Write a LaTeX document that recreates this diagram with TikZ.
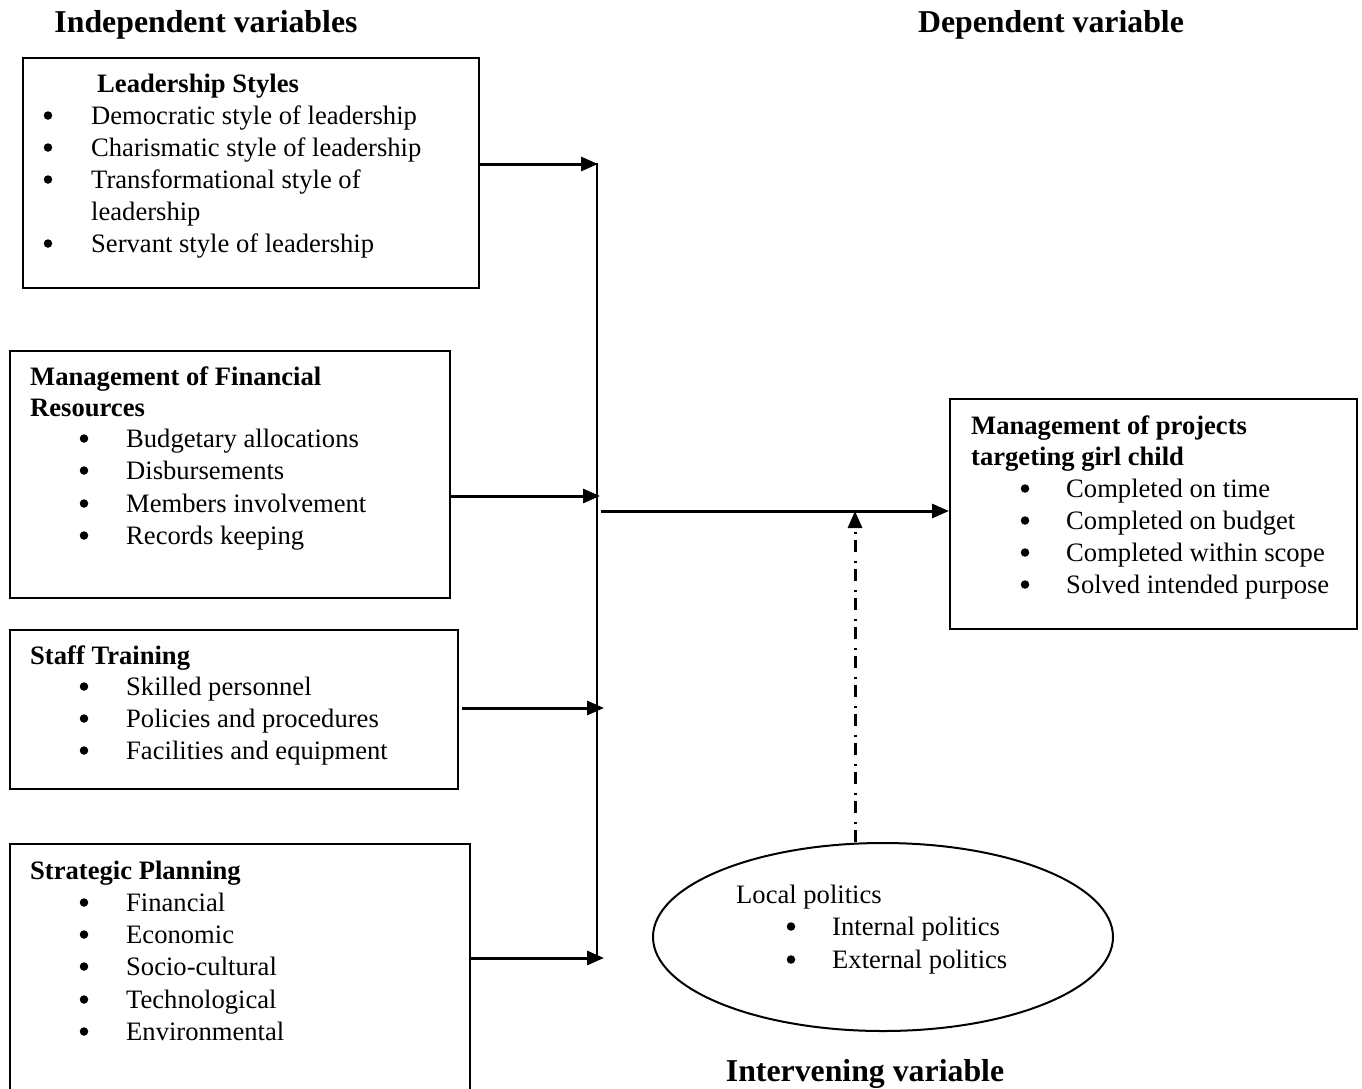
\documentclass[tikz,border=0pt]{standalone}
\usepackage{fontspec}
\setmainfont{Liberation Serif}
\usetikzlibrary{arrows.meta,shapes.geometric}
\newcommand\bodyfs{\fontsize{26.6}{32}\selectfont}
\newcommand\titlefs{\fontsize{31.8}{38}\selectfont\bfseries}
\tikzset{
  txt/.style={anchor=base west, inner sep=0pt, font=\bodyfs},
  hd/.style={anchor=base west, inner sep=0pt, font=\bodyfs\bfseries},
  bul/.style={circle, fill=black, inner sep=0pt, minimum size=8.5pt, yshift=8.5pt},
  ttl/.style={anchor=base, inner sep=0pt, font=\titlefs},
  boxr/.style={draw, line width=2pt, rectangle, inner sep=0pt, anchor=north west},
  arr/.style={line width=3pt, -{Triangle[length=17pt,width=14pt]}},
  bus/.style={line width=2.5pt},
  dd/.style={line width=3pt, dash pattern=on 12pt off 6pt on 2pt off 9pt, -{Triangle[length=17pt,width=14pt]}}
}
\begin{document}
\begin{tikzpicture}[x=1pt,y=-1pt]
\clip (0,0) rectangle (1362,1088);
\useasboundingbox (0,0) rectangle (1362,1088);

% titles
\node[ttl] (t1) at (206,32) {Independent variables};
\node[ttl] (t2) at (1051,32) {Dependent variable};
\node[ttl] (t3) at (865,1081) {Intervening variable};

% boxes
\node[boxr, minimum width=456pt, minimum height=230pt] (b1) at (22,57) {};
\node[boxr, minimum width=440pt, minimum height=247pt] (b2) at (9,350) {};
\node[boxr, minimum width=448pt, minimum height=159pt] (b3) at (9,629) {};
\node[boxr, minimum width=460pt, minimum height=260pt] (b4) at (9,843) {};
\node[boxr, minimum width=407pt, minimum height=230pt] (b5) at (949,398) {};
\node[draw, ellipse, line width=2pt, minimum width=460pt, minimum height=188pt, inner sep=0pt] (ell) at (883,937) {};

% box 1 text
\node[hd] (h1) at (97,92) {Leadership Styles};
\node[bul] (b1d1) at (48,124) {}; \node[txt] (b1t1) at (91,124) {Democratic style of leadership};
\node[bul] (b1d2) at (48,156) {}; \node[txt] (b1t2) at (91,156) {Charismatic style of leadership};
\node[bul] (b1d3) at (48,188) {}; \node[txt] (b1t3) at (91,188) {Transformational style of};
\node[txt] (b1t3b) at (91,220) {leadership};
\node[bul] (b1d4) at (48,252) {}; \node[txt] (b1t4) at (91,252) {Servant style of leadership};

% box 2 text
\node[hd] (h2a) at (30,385) {Management of Financial};
\node[hd] (h2b) at (30,416) {Resources};
\node[bul] (b2d1) at (84,447) {}; \node[txt] (b2t1) at (126,447) {Budgetary allocations};
\node[bul] (b2d2) at (84,479) {}; \node[txt] (b2t2) at (126,479) {Disbursements};
\node[bul] (b2d3) at (84,512) {}; \node[txt] (b2t3) at (126,512) {Members involvement};
\node[bul] (b2d4) at (84,544) {}; \node[txt] (b2t4) at (126,544) {Records keeping};

% box 3 text
\node[hd] (h3) at (30,664) {Staff Training};
\node[bul] (b3d1) at (84,695) {}; \node[txt] (b3t1) at (126,695) {Skilled personnel};
\node[bul] (b3d2) at (84,727) {}; \node[txt] (b3t2) at (126,727) {Policies and procedures};
\node[bul] (b3d3) at (84,759) {}; \node[txt] (b3t3) at (126,759) {Facilities and equipment};

% box 4 text
\node[hd] (h4) at (30,879) {Strategic Planning};
\node[bul] (b4d1) at (84,911) {}; \node[txt] (b4t1) at (126,911) {Financial};
\node[bul] (b4d2) at (84,943) {}; \node[txt] (b4t2) at (126,943) {Economic};
\node[bul] (b4d3) at (84,975) {}; \node[txt] (b4t3) at (126,975) {Socio-cultural};
\node[bul] (b4d4) at (84,1008) {}; \node[txt] (b4t4) at (126,1008) {Technological};
\node[bul] (b4d5) at (84,1040) {}; \node[txt] (b4t5) at (126,1040) {Environmental};

% box 5 text
\node[hd] (h5a) at (971,434) {Management of projects};
\node[hd] (h5b) at (971,465) {targeting girl child};
\node[bul] (b5d1) at (1025,497) {}; \node[txt] (b5t1) at (1066,497) {Completed on time};
\node[bul] (b5d2) at (1025,529) {}; \node[txt] (b5t2) at (1066,529) {Completed on budget};
\node[bul] (b5d3) at (1025,561) {}; \node[txt] (b5t3) at (1066,561) {Completed within scope};
\node[bul] (b5d4) at (1025,593) {}; \node[txt] (b5t4) at (1066,593) {Solved intended purpose};

% ellipse text
\node[txt] (et0) at (736,903) {Local politics};
\node[bul] (ed1) at (791,935) {}; \node[txt] (et1) at (832,935) {Internal politics};
\node[bul] (ed2) at (791,968) {}; \node[txt] (et2) at (832,968) {External politics};

% connector points
\coordinate (c1) at (598,164);
\coordinate (c2) at (600,496);
\coordinate (c3) at (604,708);
\coordinate (c4) at (604,958);
\coordinate (btop) at (597,163);
\coordinate (bbot) at (597,959);
\coordinate (mstart) at (601,511);
\coordinate (dtip) at (855,511);

\draw[bus] (btop) -- (bbot);
\draw[arr] (b1.east |- c1) -- (c1);
\draw[arr] (b2.east |- c2) -- (c2);
\draw[arr] ([xshift=3pt]b3.east |- c3) -- (c3);
\draw[arr] (b4.east |- c4) -- (c4);
\draw[arr] (mstart) -- (b5.west |- mstart);
\draw[dd] (ell.north -| dtip) -- (dtip);
\end{tikzpicture}
\end{document}
